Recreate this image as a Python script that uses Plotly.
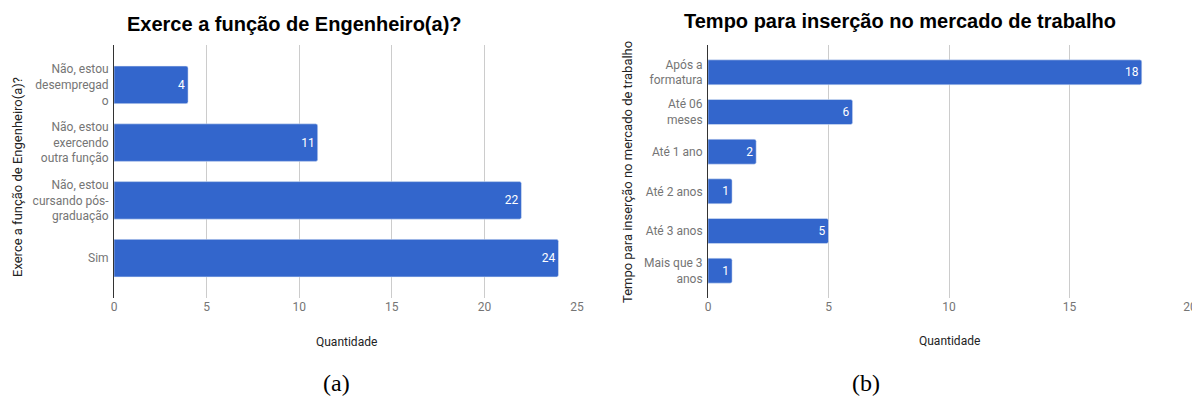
import plotly.graph_objects as go

cats_a = ["Não, estou<br>desempregad<br>o", "Não, estou<br>exercendo<br>outra função",
          "Não, estou<br>cursando pós-<br>graduação", "Sim"]
vals_a = [4, 11, 22, 24]

cats_b = ["Após a<br>formatura", "Até 06<br>meses", "Até 1 ano", "Até 2 anos",
          "Até 3 anos", "Mais que 3<br>anos"]
vals_b = [18, 6, 2, 1, 5, 1]

title_a = "Exerce a função de Engenheiro(a)?"
title_b = "Tempo para inserção no mercado de trabalho"
xlabel = "Quantidade"

BLUE = "#3366CC"
W, H = 1192, 400
TICKFONT = dict(family="Roboto, Arial", size=12, color="#757575")

fig = go.Figure()
fig.add_trace(go.Bar(y=cats_a, x=vals_a, orientation="h", width=0.65,
                     marker=dict(color=BLUE, cornerradius=2),
                     text=[str(v) for v in vals_a], textposition="inside",
                     insidetextanchor="end",
                     textfont=dict(family="Roboto, Arial", size=12, color="white"),
                     xaxis="x", yaxis="y", showlegend=False))
fig.add_trace(go.Bar(y=cats_b, x=vals_b, orientation="h", width=0.63,
                     marker=dict(color=BLUE, cornerradius=2),
                     text=[str(v) for v in vals_b], textposition="inside",
                     insidetextanchor="end",
                     textfont=dict(family="Roboto, Arial", size=12, color="white"),
                     xaxis="x2", yaxis="y2", showlegend=False))

ytop = 1 - 45 / H
ybot = 1 - 298 / H

fig.update_layout(
    width=W, height=H,
    margin=dict(l=0, r=0, t=0, b=0, autoexpand=False),
    paper_bgcolor="white", plot_bgcolor="white",
    xaxis=dict(domain=[114 / W, 577 / W], range=[0, 25], dtick=5,
               showgrid=True, gridcolor="#cccccc", zeroline=False, automargin=False,
               tickfont=TICKFONT, anchor="y", showline=False, ticks=""),
    yaxis=dict(domain=[ybot, ytop], type="category", automargin=False,
               categoryorder="array", categoryarray=cats_a,
               range=[3.69, -0.69], tickfont=TICKFONT, anchor="x",
               showline=True, linecolor="#333333", linewidth=1, ticks="",
               ticklabelstandoff=2, showgrid=False),
    xaxis2=dict(domain=[708 / W, 1190 / W], range=[0, 20], dtick=5,
                showgrid=True, gridcolor="#cccccc", zeroline=False, automargin=False,
                ticklabeloverflow="allow",
                tickfont=TICKFONT, anchor="y2", showline=False, ticks=""),
    yaxis2=dict(domain=[ybot, ytop], type="category", automargin=False,
                categoryorder="array", categoryarray=cats_b,
                range=[5.69, -0.69], tickfont=TICKFONT, anchor="x2",
                showline=True, linecolor="#333333", linewidth=1, ticks="",
                ticklabelstandoff=2, showgrid=False),
)

ann = []
def add(text, x, y, size, family, color="#000", bold=False, angle=0):
    ann.append(dict(text=(f"<b>{text}</b>" if bold else text), x=x / W, y=1 - y / H,
                    xref="paper", yref="paper", showarrow=False, textangle=angle,
                    xanchor="center", yanchor="middle",
                    font=dict(family=family, size=size, color=color)))

add(title_a, 294, 24, 20, "Arial, Liberation Sans", bold=True)
add(title_b, 900, 21, 20, "Arial, Liberation Sans", bold=True)
add(xlabel, 346, 342, 12, "Roboto, Arial", color="#222222")
add(xlabel, 949, 341, 12, "Roboto, Arial", color="#222222")
add(title_a, 17, 177, 13, "Roboto, Arial", color="#222222", angle=-90)
add(title_b, 628, 172, 13, "Roboto, Arial", color="#222222", angle=-90)
add("(a)", 336, 383, 24, "Liberation Serif, Times New Roman")
add("(b)", 866, 383, 24, "Liberation Serif, Times New Roman")
fig.update_layout(annotations=ann)

fig.write_html("out.html")
